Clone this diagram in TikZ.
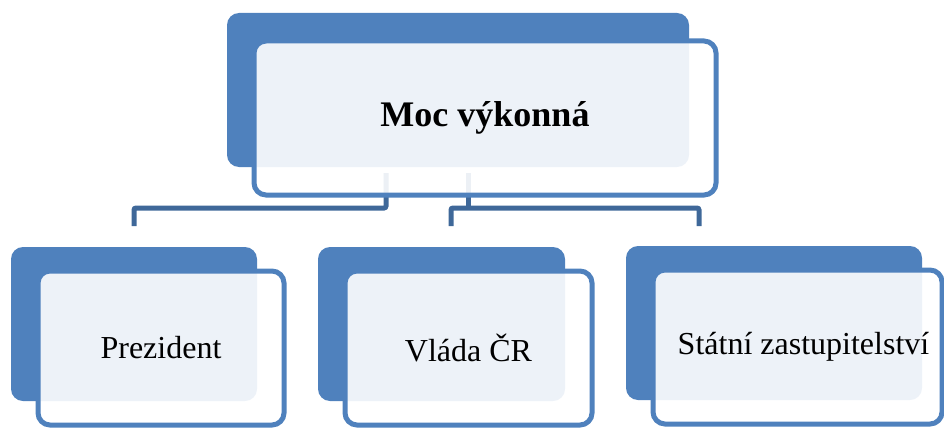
\documentclass[tikz,border=0pt]{standalone}
\usepackage{fontspec}
\setmainfont{Liberation Serif}
\usepackage{tikz}
\definecolor{accblue}{HTML}{4F81BD}
\definecolor{linkblue}{HTML}{3F6899}

\begin{document}
\begin{tikzpicture}[x=1pt,y=-1pt]
	\tikzstyle{back}=[rectangle, rounded corners=12pt, fill=accblue, inner sep=0pt]
	\tikzstyle{front}=[rectangle, rounded corners=12pt, draw=accblue, line width=5pt, fill=white, fill opacity=0.9, text opacity=1, inner sep=0pt, xshift=27pt, yshift=-24pt]
	\tikzstyle{link}=[draw=linkblue, line width=5pt, rounded corners=2pt]
	\tikzstyle{big}=[font=\fontsize{36}{40}\selectfont\bfseries]
	\tikzstyle{small}=[font=\fontsize{32}{36}\selectfont]

	\useasboundingbox (0,0) rectangle (944,428);
	\clip (0,0) rectangle (944,428);

	% connectors (behind the boxes)
	\coordinate (s1) at (386,173);
	\coordinate (j1) at (386,208);
	\coordinate (e1) at (134,226);
	\coordinate (s2) at (468,173);
	\coordinate (j2) at (468,208);
	\coordinate (e2) at (451,226);
	\coordinate (e3) at (699,226);

	\draw[link] (s1) -- (j1) -| (e1);
	\draw[link] (s2) -- (j2);
	\draw[link] (e2) |- (j2) -| (e3);

	% top
	\node[back, minimum width=462pt, minimum height=154pt] (b0) at (458,90) {};
	\node[front, big, yshift=-4pt, minimum width=462pt, minimum height=154pt] (moc) at (b0) {Moc výkonná};

	% bottom row
	\node[back, minimum width=246pt, minimum height=154pt] (b1) at (134,324) {};
	\node[front, small, minimum width=246pt, minimum height=154pt] (prez) at (b1) {Prezident};
	\node[back, minimum width=247pt, minimum height=154pt] (b2) at (441.5,324) {};
	\node[front, small, minimum width=247pt, minimum height=154pt] (vlada) at (b2) {Vláda ČR};
	\node[back, minimum width=296pt, minimum height=154pt] (b3) at (774,323) {};
	\node[front, small, xshift=-3.5pt, minimum width=289pt, minimum height=154pt] (szt) at (b3) {\hspace*{12pt}Státní zastupitelství};
\end{tikzpicture}
\end{document}
